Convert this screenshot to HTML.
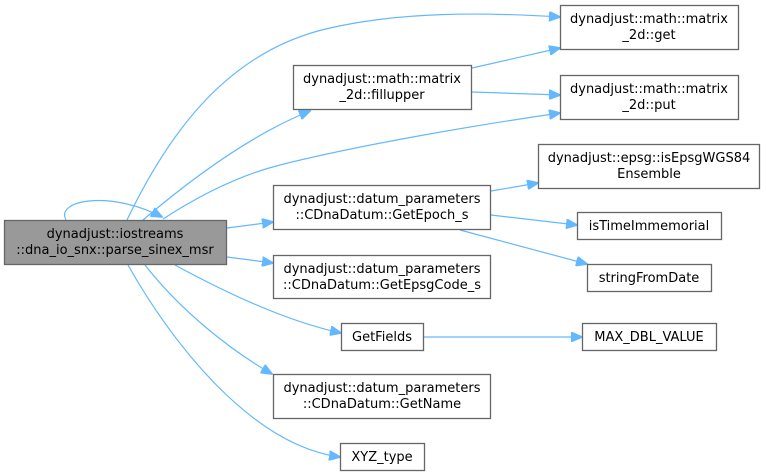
<!DOCTYPE html>
<html><head><meta charset="utf-8"><style>
html,body{margin:0;padding:0;background:#fff;width:766px;height:476px;overflow:hidden}
svg{display:block}
text{font-family:"DejaVu Sans","Liberation Sans",sans-serif;font-size:13px;fill:#000}
.b{fill:#fff;stroke:#666;stroke-width:1.3}
.e{fill:none;stroke:#63b8ff;stroke-width:1.2}
</style></head><body>
<svg width="766" height="476" viewBox="0 0 766 476">
<defs><marker id="a" markerWidth="12" markerHeight="10" refX="11" refY="5" orient="auto" markerUnits="userSpaceOnUse"><path d="M0,0 L12,5 L0,10 z" fill="#63b8ff" stroke="#63b8ff"/></marker></defs>
<path class="e" marker-end="url(#a)" d="M127,220 C170,130 230,50 330,28 C400,12 480,12 560,17"/>
<path class="e" marker-end="url(#a)" d="M143,220 C190,180 250,135 310,111"/>
<path class="e" marker-end="url(#a)" d="M66,220 C55,200 110,190 162,217"/>
<path class="e" marker-end="url(#a)" d="M163,219 C200,195 240,175 280,165 C360,145 470,126 560,113"/>
<path class="e" marker-end="url(#a)" d="M227,228 L273,222"/>
<path class="e" marker-end="url(#a)" d="M227,257 L273,263"/>
<path class="e" marker-end="url(#a)" d="M175,265 C230,295 290,322 341,333"/>
<path class="e" marker-end="url(#a)" d="M145,265 C180,310 230,350 272,374"/>
<path class="e" marker-end="url(#a)" d="M128,265 C170,340 250,445 340,457"/>
<path class="e" marker-end="url(#a)" d="M472,68 L560,48"/>
<path class="e" marker-end="url(#a)" d="M472,92 L560,95"/>
<path class="e" marker-end="url(#a)" d="M491,191 L538,183"/>
<path class="e" marker-end="url(#a)" d="M491,215 L577,225"/>
<path class="e" marker-end="url(#a)" d="M460,230 L587,264"/>
<path class="e" marker-end="url(#a)" d="M423,337 L582,337"/>

<rect x="4.5" y="220.5" width="222" height="44" fill="#999" stroke="#666" stroke-width="1.3"/>
<text x="115" y="238" text-anchor="middle">dynadjust::iostreams</text>
<text x="115" y="254" text-anchor="middle">::dna_io_snx::parse_sinex_msr</text>

<rect class="b" x="293.5" y="65.5" width="178" height="44"/>
<text x="382" y="83" text-anchor="middle">dynadjust::math::matrix</text>
<text x="382" y="99" text-anchor="middle">_2d::fillupper</text>

<rect class="b" x="560.5" y="5.5" width="178" height="44"/>
<text x="649" y="23" text-anchor="middle">dynadjust::math::matrix</text>
<text x="649" y="39" text-anchor="middle">_2d::get</text>

<rect class="b" x="560.5" y="75.5" width="178" height="44"/>
<text x="649" y="93" text-anchor="middle">dynadjust::math::matrix</text>
<text x="649" y="109" text-anchor="middle">_2d::put</text>

<rect class="b" x="273.5" y="185.5" width="217" height="44"/>
<text x="382" y="203" text-anchor="middle">dynadjust::datum_parameters</text>
<text x="382" y="219" text-anchor="middle">::CDnaDatum::GetEpoch_s</text>

<rect class="b" x="538.5" y="144.5" width="221" height="44"/>
<text x="649" y="162" text-anchor="middle">dynadjust::epsg::isEpsgWGS84</text>
<text x="649" y="178" text-anchor="middle">Ensemble</text>

<rect class="b" x="577.5" y="212.5" width="144" height="27"/>
<text x="649" y="230" text-anchor="middle">isTimeImmemorial</text>

<rect class="b" x="587.5" y="264.5" width="124" height="27"/>
<text x="649" y="282" text-anchor="middle">stringFromDate</text>

<rect class="b" x="273.5" y="255.5" width="217" height="43"/>
<text x="382" y="273" text-anchor="middle">dynadjust::datum_parameters</text>
<text x="382" y="289" text-anchor="middle">::CDnaDatum::GetEpsgCode_s</text>

<rect class="b" x="341.5" y="323.5" width="82" height="27"/>
<text x="382" y="341" text-anchor="middle">GetFields</text>

<rect class="b" x="582.5" y="323.5" width="134" height="27"/>
<text x="649" y="341" text-anchor="middle">MAX_DBL_VALUE</text>

<rect class="b" x="273.5" y="374.5" width="217" height="44"/>
<text x="382" y="392" text-anchor="middle">dynadjust::datum_parameters</text>
<text x="382" y="408" text-anchor="middle">::CDnaDatum::GetName</text>

<rect class="b" x="340.5" y="443.5" width="84" height="27"/>
<text x="382" y="461" text-anchor="middle">XYZ_type</text>
</svg>
</body></html>
